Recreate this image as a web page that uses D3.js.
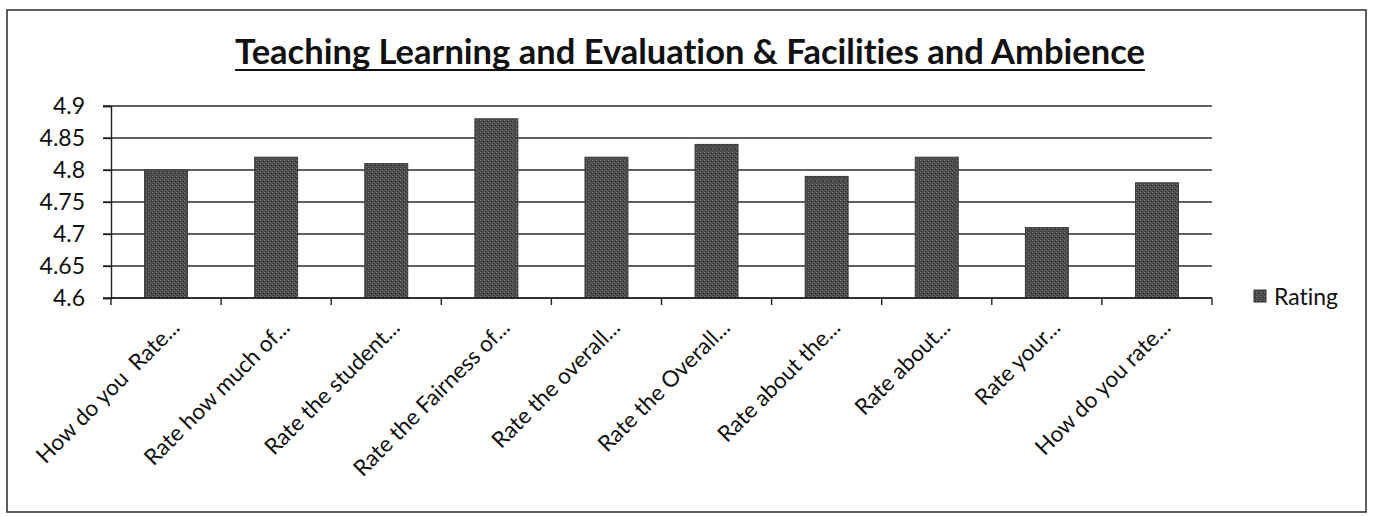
<!DOCTYPE html>
<html>
<head>
<meta charset="utf-8">
<script src="https://cdn.jsdelivr.net/npm/d3@7/dist/d3.min.js"></script>
<style>
  html, body { margin: 0; padding: 0; background: #fff; }
  svg { display: block; }
  text { font-family: Lato, "Open Sans", "DejaVu Sans", sans-serif; fill: #111; font-variant-ligatures: none; }
</style>
</head>
<body>
<svg id="chart" width="1375" height="516"></svg>
<script>
// ---- data ----
const categories = [
  "How do you  Rate...",
  "Rate how much of...",
  "Rate the student...",
  "Rate the Fairness of...",
  "Rate the overall...",
  "Rate the Overall...",
  "Rate about the...",
  "Rate about...",
  "Rate your...",
  "How do you rate..."
];
const ratings = [4.80, 4.82, 4.81, 4.88, 4.82, 4.84, 4.79, 4.82, 4.71, 4.78];
const yTicks = [4.6, 4.65, 4.7, 4.75, 4.8, 4.85, 4.9];
const yTickLabels = ["4.6", "4.65", "4.7", "4.75", "4.8", "4.85", "4.9"];
const seriesName = "Rating";
const title = "Teaching Learning and Evaluation & Facilities and Ambience";

// ---- layout ----
const svg = d3.select("#chart");
const plot = { left: 111, right: 1212, top: 106, bottom: 298 };

// outer frame
svg.append("rect")
  .attr("x", 7).attr("y", 10).attr("width", 1359).attr("height", 502)
  .attr("fill", "#fff").attr("stroke", "#2a2a2a").attr("stroke-width", 1.5);

const x = d3.scaleBand()
  .domain(categories)
  .range([plot.left, plot.right])
  .paddingInner(0.61)
  .paddingOuter(0.305);

const y = d3.scaleLinear()
  .domain([4.6, 4.9])
  .range([plot.bottom, plot.top]);

// gridlines
svg.append("g").selectAll("line")
  .data(yTicks)
  .join("line")
  .attr("x1", plot.left - 8).attr("x2", plot.right)
  .attr("y1", d => y(d)).attr("y2", d => y(d))
  .attr("stroke", "#2b2b2b").attr("stroke-width", 1.4);

// texture pattern for bars
const defs = svg.append("defs");
const pat = defs.append("pattern")
  .attr("id", "tex").attr("patternUnits", "userSpaceOnUse")
  .attr("width", 4).attr("height", 4);
pat.append("rect").attr("width", 4).attr("height", 4).attr("fill", "#4a4a4a");
pat.append("rect").attr("x", 0).attr("y", 0).attr("width", 1).attr("height", 1).attr("fill", "#7a7a7a");
pat.append("rect").attr("x", 2).attr("y", 2).attr("width", 1).attr("height", 1).attr("fill", "#6a6a6a");
pat.append("rect").attr("x", 3).attr("y", 1).attr("width", 1).attr("height", 1).attr("fill", "#333");

// bars
svg.append("g").selectAll("rect")
  .data(categories.map((c, i) => ({ c, v: ratings[i] })))
  .join("rect")
  .attr("x", d => x(d.c))
  .attr("y", d => y(d.v))
  .attr("width", x.bandwidth())
  .attr("height", d => y(4.6) - y(d.v))
  .attr("fill", "url(#tex)")
  .attr("stroke", "#3a3a3a").attr("stroke-width", 1);

// y axis
const yAxis = d3.axisLeft(y)
  .tickValues(yTicks)
  .tickFormat((d, i) => yTickLabels[i])
  .tickSize(8)
  .tickPadding(18);
const gy = svg.append("g")
  .attr("transform", `translate(${plot.left},0)`)
  .call(yAxis);
gy.select(".domain").attr("stroke", "#222").attr("stroke-width", 1.4);
gy.selectAll(".tick line").attr("stroke", "#222").attr("stroke-width", 1.4);
gy.selectAll(".tick text")
  .style("font-family", "Lato, 'Open Sans', sans-serif")
  .style("font-size", "23px").attr("fill", "#111");

// x axis line + ticks at band boundaries
const step = x.step();
const boundaries = categories.map(c => x(c) - step * x.paddingInner() / 2)
  .concat([plot.right]);
svg.append("line")
  .attr("x1", plot.left).attr("x2", plot.right)
  .attr("y1", y(4.6)).attr("y2", y(4.6))
  .attr("stroke", "#222").attr("stroke-width", 1.4);
svg.append("g").selectAll("line")
  .data(boundaries)
  .join("line")
  .attr("x1", d => d).attr("x2", d => d)
  .attr("y1", y(4.6)).attr("y2", y(4.6) + 7)
  .attr("stroke", "#222").attr("stroke-width", 1.4);

// x labels rotated
svg.append("g").selectAll("text")
  .data(categories)
  .join("text")
  .attr("text-anchor", "end")
  .style("white-space", "pre")
  .style("font-size", "22.5px")
  .attr("transform", d => `translate(${x(d) + x.bandwidth() / 2 + 15},${y(4.6) + 31}) rotate(-45)`)
  .text(d => d);

// title
const tt = svg.append("text")
  .attr("x", 690).attr("y", 64)
  .attr("text-anchor", "middle")
  .style("font-weight", "bold")
  .style("font-size", "30px")
  .text(title);
const len = tt.node().getComputedTextLength();
const fs = 30 * 910 / len;
tt.style("font-size", fs + "px");
const len2 = tt.node().getComputedTextLength();
svg.append("line")
  .attr("x1", 690 - len2 / 2).attr("x2", 690 + len2 / 2)
  .attr("y1", 70).attr("y2", 70)
  .attr("stroke", "#111").attr("stroke-width", 2);

// legend
const lg = svg.append("g");
lg.append("rect")
  .attr("x", 1254).attr("y", 290).attr("width", 12).attr("height", 12)
  .attr("fill", "url(#tex)").attr("stroke", "#333");
lg.append("text")
  .attr("x", 1274).attr("y", 305)
  .style("font-size", "23px")
  .text(seriesName);
</script>
</body>
</html>
